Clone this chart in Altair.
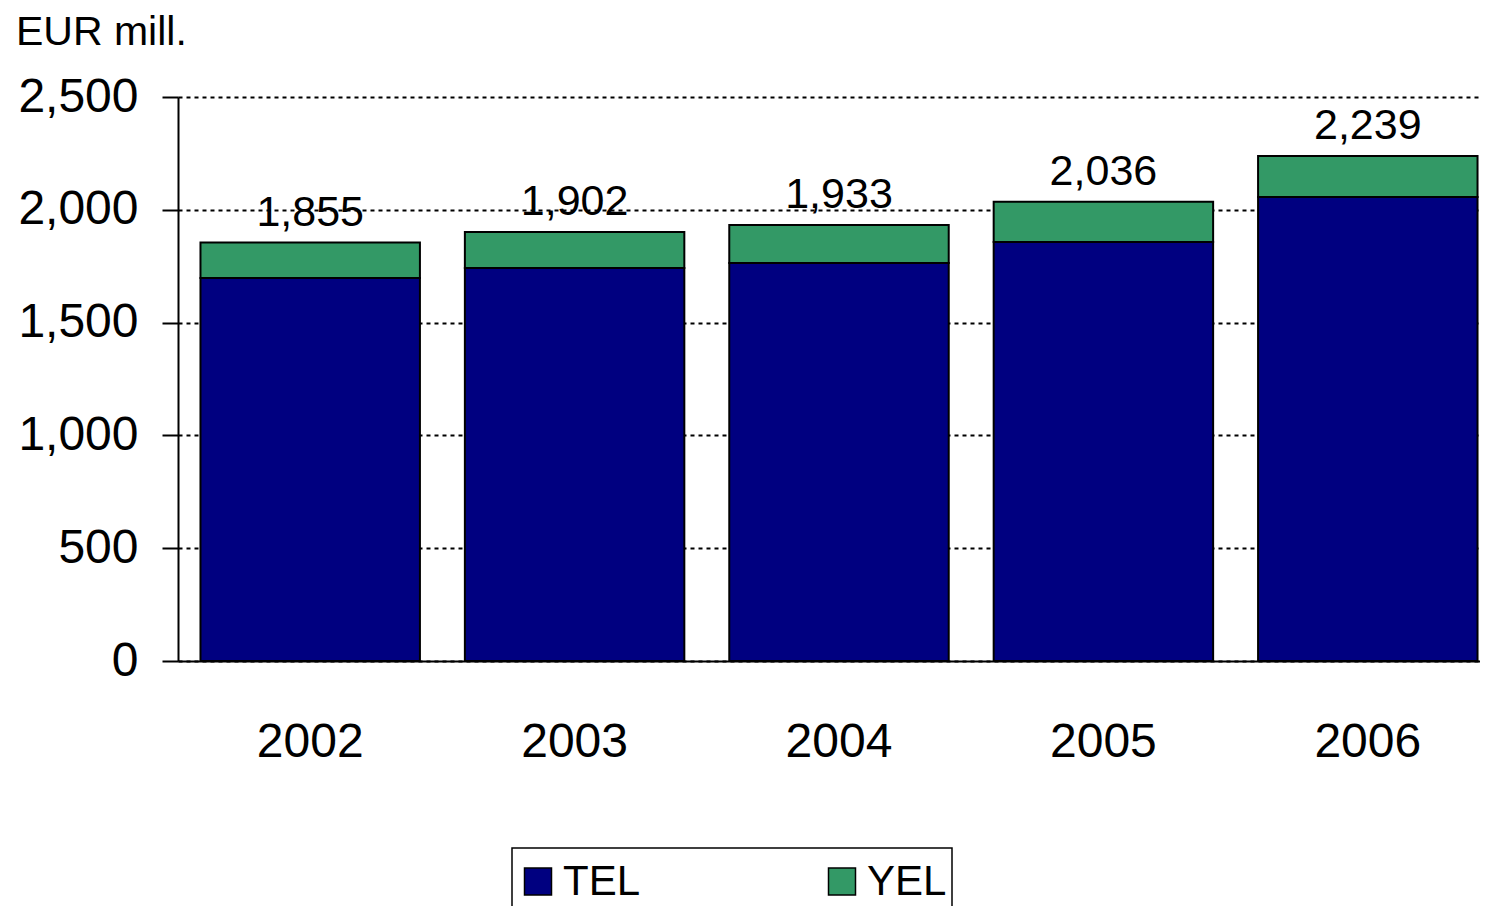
import altair as alt
import pandas as pd

years = ["2002", "2003", "2004", "2005", "2006"]
tel = [1698, 1742, 1764, 1857, 2057]
yel = [157, 160, 169, 179, 182]
totals = [1855, 1902, 1933, 2036, 2239]
series = ["TEL", "YEL"]
colors = ["#000080", "#339966"]
y_ticks = [0, 500, 1000, 1500, 2000, 2500]
unit_label = "EUR mill."

FONT = "Liberation Sans"

rows = []
for i, yr in enumerate(years):
    rows.append({"year": yr, "series": series[0], "value": tel[i], "ord": 0})
    rows.append({"year": yr, "series": series[1], "value": yel[i], "ord": 1})
df = pd.DataFrame(rows)
tot_df = pd.DataFrame({"year": years, "total": totals})
lab_df = pd.DataFrame({"t": [unit_label]})

x_scale = alt.Scale(range=[0, 1322], paddingInner=0.17, paddingOuter=0.085)

x_enc = alt.X(
    "year:N", sort=years, title=None, scale=x_scale,
    axis=alt.Axis(labelAngle=0, labelFontSize=48, labelPadding=57, ticks=False, tickSize=0,
                  domainColor="black", domainWidth=2, grid=False, labelColor="black",
                  labelFont=FONT),
)

y_scale = alt.Scale(domain=[0, 2500], nice=False)

bars = alt.Chart(df).mark_bar(stroke="black", strokeWidth=2).encode(
    x=x_enc,
    y=alt.Y(
        "value:Q", stack="zero", title=None, scale=y_scale,
        axis=alt.Axis(values=y_ticks, format=",d", labelFontSize=48, labelPadding=24,
                      tickSize=16, tickColor="black", tickWidth=2,
                      domainColor="black", domainWidth=2,
                      gridColor="black", gridDash=[4, 4], gridWidth=2,
                      labelColor="black", labelFont=FONT),
    ),
    color=alt.Color("series:N", title=None,
                    scale=alt.Scale(domain=series, range=colors),
                    sort=series),
    order=alt.Order("ord:Q", sort="ascending"),
)

labels = alt.Chart(tot_df).mark_text(
    fontSize=43, dy=-17, baseline="alphabetic", font=FONT, color="black"
).encode(
    x=alt.X("year:N", sort=years),
    y=alt.Y("total:Q", scale=y_scale),
    text=alt.Text("total:Q", format=",d"),
)

unit = alt.Chart(lab_df).mark_text(
    align="left", baseline="alphabetic", fontSize=41, font=FONT, color="black"
).encode(
    x=alt.value(-162), y=alt.value(-52), text="t:N"
)

chart = alt.layer(bars, labels, unit).properties(
    width=1302, height=564,
    autosize=alt.AutoSizeParams(type="none"),
    padding={"left": 170, "top": 89, "right": 0, "bottom": 245},
).configure(font=FONT).configure_view(strokeWidth=0).configure_legend(
    orient="none", legendX=334, legendY=751, direction="horizontal", columns=2,
    columnPadding=180, symbolType="square", symbolSize=729,
    symbolStrokeColor="black", symbolStrokeWidth=1.5, symbolOpacity=1,
    labelFontSize=42, labelOffset=4, labelFont=FONT, labelColor="black",
    clipHeight=57,
    padding=5, strokeColor="black", strokeWidth=1.5, fillColor="white",
)

chart.save("out.html", embed_options={"renderer": "svg", "actions": False})
